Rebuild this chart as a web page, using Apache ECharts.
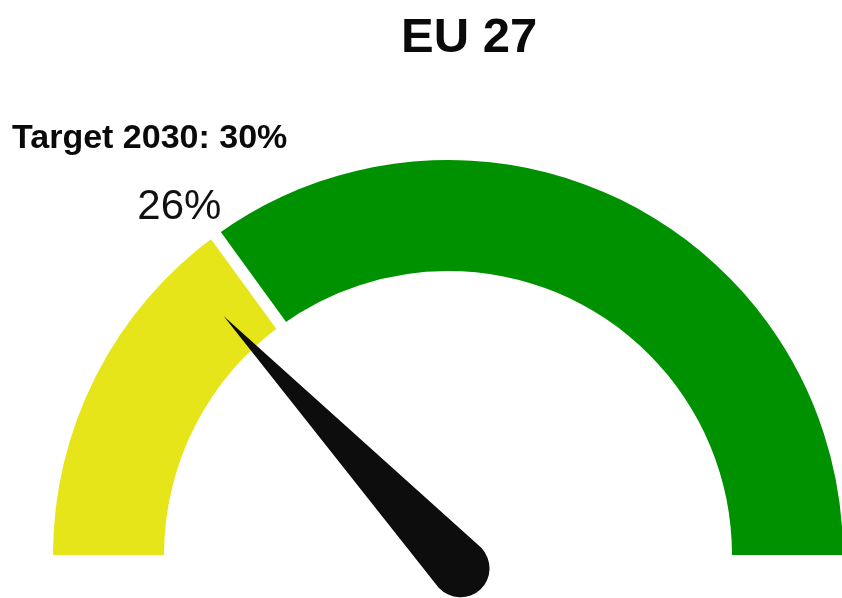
<!DOCTYPE html>
<html>
<head>
<meta charset="utf-8">
<script src="https://cdn.jsdelivr.net/npm/echarts@6/dist/echarts.min.js"></script>
<style>
  html, body { margin: 0; padding: 0; background: #fff; }
  #chart { width: 842px; height: 598px; }
</style>
</head>
<body>
<div id="chart"></div>
<script>
// data
const chartTitle = 'EU 27'
const targetLabel = 'Target 2030: 30%'
const currentValue = [26]
const targetValue = [30]
const bandColors = ['#e5e519', '#009100']

const center = [448, 555]
const radius = 395

const hidden = {
  axisTick: { show: false },
  splitLine: { show: false },
  axisLabel: { show: false },
  anchor: { show: false },
  title: { show: false }
}

const chart = echarts.init(document.getElementById('chart'))

const option = {
  animation: false,
  title: [
    {
      text: chartTitle,
      left: 396,
      top: 9,
      textStyle: { fontFamily: 'Liberation Sans, Arial', fontSize: 49, fontWeight: 'bold', color: '#0a0a0a' }
    },
    {
      text: targetLabel,
      left: 7,
      top: 117,
      textStyle: { fontFamily: 'Liberation Sans, Arial', fontSize: 34, fontWeight: 'bold', color: '#0a0a0a' }
    }
  ],
  series: [
    // bands
    {
      type: 'gauge',
      center: center,
      radius: radius,
      startAngle: 180,
      endAngle: 0,
      min: 0,
      max: 100,
      axisLine: {
        lineStyle: {
          width: 111,
          color: [[targetValue[0] / 100, bandColors[0]], [1, bandColors[1]]]
        }
      },
      pointer: { show: false },
      detail: { show: false },
      ...hidden,
      data: [{ value: targetValue[0] }]
    },
    // white gap at the target
    {
      type: 'gauge',
      center: center,
      radius: radius,
      startAngle: 180,
      endAngle: 0,
      min: 0,
      max: 100,
      axisLine: { show: false },
      pointer: {
        icon: 'rect',
        width: 12,
        length: '34%',
        offsetCenter: [0, '-69%'],
        itemStyle: { color: '#ffffff' }
      },
      detail: { show: false },
      ...hidden,
      data: [{ value: targetValue[0] }]
    },
    // needle
    {
      type: 'gauge',
      center: center,
      radius: radius,
      startAngle: 180,
      endAngle: 0,
      min: 0,
      max: 100,
      axisLine: { show: false },
      pointer: {
        icon: 'path://M30,0 L0,347 A30,30,0,0,0,60,347 Z',
        width: '14.8%',
        length: '95%',
        offsetCenter: [0, '12%'],
        keepAspect: false,
        itemStyle: { color: '#0d0d0d' }
      },
      detail: {
        show: true,
        formatter: '{value}%',
        offsetCenter: ['-68%', '-88%'],
        fontFamily: 'Liberation Sans, Arial',
        fontSize: 42,
        fontWeight: 'normal',
        color: '#111'
      },
      ...hidden,
      data: [{ value: currentValue[0] }]
    }
  ]
}

chart.setOption(option)
</script>
</body>
</html>
